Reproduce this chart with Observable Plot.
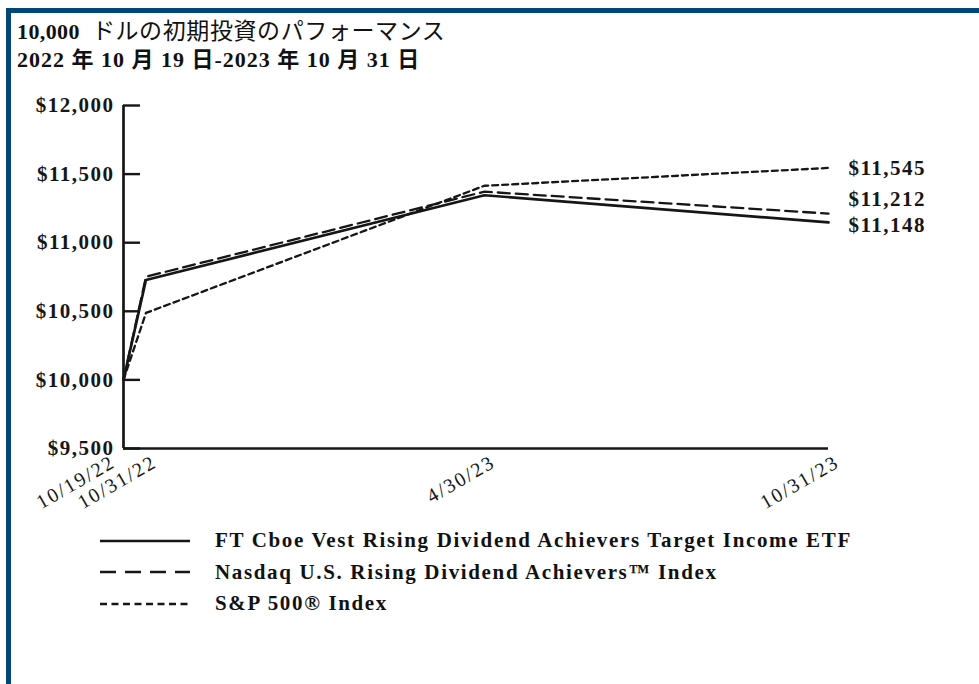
<!DOCTYPE html>
<html>
<head>
<meta charset="utf-8">
<script src="https://cdn.jsdelivr.net/npm/d3@7"></script>
<script src="https://cdn.jsdelivr.net/npm/@observablehq/plot@0.6"></script>
<style>
  html, body { margin: 0; padding: 0; background: #fff; }
  body { width: 979px; height: 684px; overflow: hidden; position: relative; }
  #frame { position: absolute; left: 6px; top: 8px; right: -20px; bottom: -20px;
           border-top: 5px solid #004778; border-left: 5px solid #004778; }
  #title { position: absolute; left: 17px; top: 15px; color: #111;
           font-family: "Liberation Serif", "Noto Sans CJK JP", serif; font-size: 22px; }
  #title .l1 { position: absolute; top: 0; left: 0; white-space: nowrap; line-height: 28px; }
  #title .l2 { position: absolute; top: 31px; left: 0; white-space: nowrap; line-height: 28px; font-weight: bold; letter-spacing: 1px; }
  #title .num { font-weight: bold; letter-spacing: 0.4px; }
  #title .jp { font-weight: normal; font-size: 23px; letter-spacing: 0.6px; margin-left: 12px; font-family: "Noto Sans CJK JP", sans-serif; }
  #chart { position: absolute; left: 0; top: 80px; }
  #chart g[aria-label="y-axis tick label"], #chart g.endlab { letter-spacing: 1.5px; }
  #chart g[aria-label="x-axis tick label"] { letter-spacing: 2px; }
  #legend { position: absolute; left: 100px; top: 525px; font-family: "Liberation Serif", "Times New Roman", serif;
            font-size: 21px; font-weight: bold; color: #111; letter-spacing: 1.65px; }
  #legend .row { display: flex; align-items: center; height: 31.5px; white-space: nowrap; }
  #legend svg { width: 90px; height: 10px; margin-right: 25px; flex: none; }
</style>
</head>
<body>
<div id="frame"></div>
<div id="title">
  <div class="l1"><span class="num">10,000</span><span class="jp">ドルの初期投資のパフォーマンス</span></div>
  <div class="l2">2022 年 10 月 19 日-2023 年 10 月 31 日</div>
</div>
<div id="chart"></div>
<div id="legend"></div>
<script>
// ---- data ----
const dates = ["2022-10-19", "2022-10-31", "2023-04-30", "2023-10-31"];
const dateLabels = ["10/19/22", "10/31/22", "4/30/23", "10/31/23"];
const seriesNames = [
  "FT Cboe Vest Rising Dividend Achievers Target Income ETF",
  "Nasdaq U.S. Rising Dividend Achievers\u2122 Index",
  "S&P 500\u00AE Index"
];
const ftValues = [10000, 10728, 11346, 11148];
const nasdaqValues = [10000, 10752, 11372, 11212];
const spValues = [10000, 10488, 11415, 11545];
const endLabels = ["$11,148", "$11,212", "$11,545"];
const yTicks = [9500, 10000, 10500, 11000, 11500, 12000];

// ---- build ----
const parse = d3.utcParse("%Y-%m-%d");
const dateObjs = dates.map(parse);
const labelByTime = new Map(dateObjs.map((d, i) => [+d, dateLabels[i]]));
const toRows = (vals) => vals.map((v, i) => ({date: dateObjs[i], value: v}));
const ft = toRows(ftValues), nq = toRows(nasdaqValues), sp = toRows(spValues);
const last = dateObjs.length - 1;
const ink = "#161616";
const dashes = [null, "12,6", "6,4"];
const widths = [2.7, 2.3, 2.3];

const endMark = (vals, i, dy) => Plot.text([vals[last]], {
  x: () => dateObjs[last], y: d => d, text: () => endLabels[i],
  dx: 20, dy, textAnchor: "start", fontSize: 21, fontWeight: "bold", fill: ink, className: "endlab"
});

const xLabelOpts = {tickSize: 0, tickPadding: 12, label: null, tickRotate: -30, textAnchor: "end",
  tickFormat: d => labelByTime.get(+d), fontSize: 20};

const chart = Plot.plot({
  width: 979,
  height: 440,
  marginTop: 25,
  marginBottom: 72,
  marginLeft: 123,
  marginRight: 151,
  x: {type: "utc", domain: [dateObjs[0], dateObjs[last]]},
  y: {domain: [yTicks[0], yTicks[yTicks.length - 1]]},
  style: {fontFamily: "'Liberation Serif', 'Times New Roman', serif", color: ink, background: "transparent", overflow: "visible"},
  marks: [
    Plot.axisY(yTicks, {tickSize: 0, tickPadding: 9, label: null,
      tickFormat: d => "$" + d3.format(",")(d), fontSize: 21, fontWeight: "bold"}),
    Plot.axisY(yTicks, {tickSize: -17, tickPadding: 0, label: null, tickFormat: () => "", strokeWidth: 2.4, stroke: ink}),
    Plot.axisX(dateObjs.slice(0, 1), {...xLabelOpts, dx: -10}),
    Plot.axisX(dateObjs.slice(1), {...xLabelOpts, dx: 9}),
    Plot.ruleY([yTicks[0]], {stroke: ink, strokeWidth: 2.7}),
    Plot.ruleX([dateObjs[0]], {stroke: ink, strokeWidth: 2.7}),
    Plot.line(sp, {x: "date", y: "value", stroke: ink, strokeWidth: widths[2], strokeDasharray: dashes[2]}),
    Plot.line(nq, {x: "date", y: "value", stroke: ink, strokeWidth: widths[1], strokeDasharray: dashes[1]}),
    Plot.line(ft, {x: "date", y: "value", stroke: ink, strokeWidth: widths[0]}),
    endMark(spValues, 2, 0),
    endMark(nasdaqValues, 1, -14),
    endMark(ftValues, 0, 3)
  ]
});
document.getElementById("chart").appendChild(chart);

// ---- legend ----
const legendDash = [null, "16,9", "7,4.5"];
const legend = document.getElementById("legend");
seriesNames.forEach((name, i) => {
  const row = document.createElement("div");
  row.className = "row";
  const s = d3.create("svg").attr("viewBox", "0 0 90 10");
  s.append("line").attr("x1", 0).attr("x2", 90).attr("y1", 5).attr("y2", 5)
    .attr("stroke", ink).attr("stroke-width", i === 0 ? 2.7 : 2.4)
    .attr("stroke-dasharray", legendDash[i]);
  row.appendChild(s.node());
  const t = document.createElement("span");
  t.textContent = name;
  row.appendChild(t);
  legend.appendChild(row);
});
</script>
</body>
</html>
